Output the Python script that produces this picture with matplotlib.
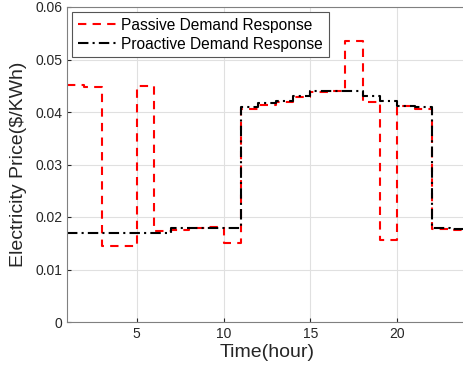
import numpy as np
import matplotlib.pyplot as plt

plt.rcParams['font.family'] = ['Liberation Sans', 'DejaVu Sans']

# hourly prices, stairs style (value at hour h holds until h+1)
hours = np.arange(1, 25)
passive = [0.0451, 0.0447, 0.0145, 0.0145, 0.0450, 0.0173, 0.0175, 0.0180,
           0.0181, 0.0150, 0.0406, 0.0413, 0.0420, 0.0428, 0.0438, 0.0440,
           0.0535, 0.0420, 0.0157, 0.0411, 0.0406, 0.0178, 0.0176, 0.0176]
proactive = [0.0170, 0.0170, 0.0170, 0.0170, 0.0170, 0.0170, 0.0180, 0.0180,
             0.0180, 0.0180, 0.0410, 0.0418, 0.0421, 0.0430, 0.0440, 0.0440,
             0.0440, 0.0430, 0.0421, 0.0412, 0.0410, 0.0179, 0.0178, 0.0178]

fig = plt.figure(figsize=(4.64, 3.66), dpi=100)
ax = fig.add_axes([67/464, 44/366, 400/464, 315/366])

ax.step(hours, passive, where='post', color='red', linestyle=(0, (4, 3)),
        linewidth=1.5, label='Passive Demand Response')
ax.step(hours, proactive, where='post', color='black', linestyle=(0, (5, 2, 1, 2)),
        linewidth=1.5, label='Proactive Demand Response')

ax.set_xlim(1, 24)
ax.set_ylim(0, 0.06)
ax.set_xticks([5, 10, 15, 20])
ax.set_yticks(np.arange(0, 0.061, 0.01))
ax.set_yticklabels(['0', '0.01', '0.02', '0.03', '0.04', '0.05', '0.06'])
ax.tick_params(direction='in', labelsize=10, colors='#262626', length=3)
for s in ax.spines.values():
    s.set_color('#808080')
ax.grid(True, color='#e0e0e0', linewidth=0.8)
ax.set_axisbelow(True)

ax.set_xlabel('Time(hour)', fontsize=14, color='#262626', labelpad=2)
ax.set_ylabel(r'Electricity Price(\$/KWh)', fontsize=14, color='#262626', labelpad=6)

leg = ax.legend(loc='upper left', fontsize=11.2, fancybox=False, framealpha=1,
                edgecolor='#555555', handlelength=2.5, handletextpad=0.3,
                borderpad=0.35, labelspacing=0.25, borderaxespad=0.35)
leg.get_frame().set_linewidth(0.8)

fig.savefig('out.png', dpi=100)
